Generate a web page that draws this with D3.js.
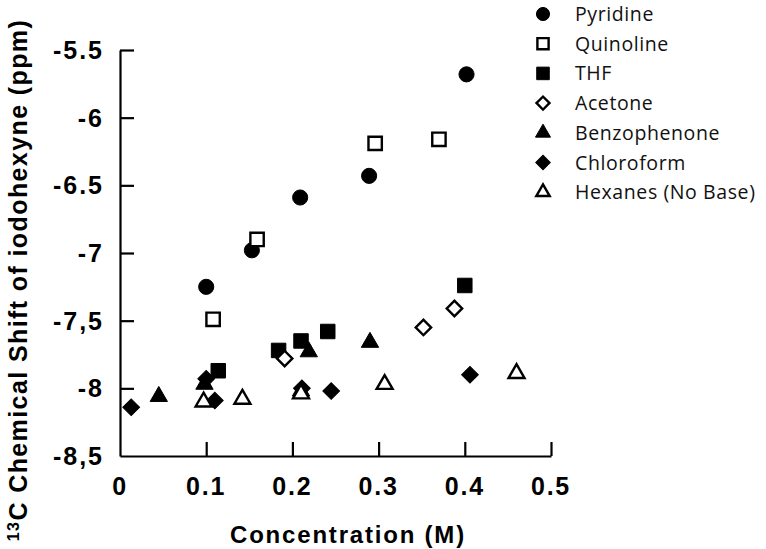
<!DOCTYPE html>
<html>
<head>
<meta charset="utf-8">
<script src="https://cdn.jsdelivr.net/npm/d3@7"></script>
<style>
  html, body { margin: 0; padding: 0; background: #fff; }
  svg { display: block; }
</style>
</head>
<body>
<svg id="chart" width="766" height="549"></svg>
<script>
// data (concentration M, 13C shift ppm)
const pyridine = [[0.100, -7.25], [0.153, -6.98], [0.209, -6.59], [0.289, -6.43], [0.402, -5.68]];
const quinoline = [[0.108, -7.49], [0.159, -6.90], [0.296, -6.19], [0.370, -6.16]];
const thf = [[0.114, -7.87], [0.184, -7.72], [0.210, -7.65], [0.241, -7.58], [0.400, -7.24]];
const acetone = [[0.191, -7.78], [0.352, -7.55], [0.388, -7.41]];
const benzophenone = [[0.045, -8.06], [0.098, -7.97], [0.210, -8.02], [0.219, -7.73], [0.290, -7.66]];
const chloroform = [[0.013, -8.14], [0.100, -7.93], [0.110, -8.09], [0.211, -8.00], [0.245, -8.02], [0.406, -7.90]];
const hexanes = [[0.097, -8.10], [0.142, -8.08], [0.210, -8.04], [0.307, -7.97], [0.460, -7.89]];

const xTicks = [0, 0.1, 0.2, 0.3, 0.4, 0.5];
const xTickLabels = ["0", "0.1", "0.2", "0.3", "0.4", "0.5"];
const yTicks = [-5.5, -6, -6.5, -7, -7.5, -8, -8.5];
const yTickLabels = ["-5.5", "-6", "-6.5", "-7", "-7,5", "-8", "-8,5"];

const series = [
  { name: "Pyridine", data: pyridine, shape: "circle", fill: true },
  { name: "Quinoline", data: quinoline, shape: "square", fill: false },
  { name: "THF", data: thf, shape: "square", fill: true },
  { name: "Acetone", data: acetone, shape: "diamond", fill: false },
  { name: "Benzophenone", data: benzophenone, shape: "triangle", fill: true },
  { name: "Chloroform", data: chloroform, shape: "diamond", fill: true },
  { name: "Hexanes (No Base)", data: hexanes, shape: "triangle", fill: false }
];

const svg = d3.select("#chart");
const margin = { left: 120, right: 215, top: 50, bottom: 93 };
const width = 766, height = 549;

const x = d3.scaleLinear().domain([0, 0.5]).range([margin.left, width - margin.right]);
const y = d3.scaleLinear().domain([-8.5, -5.5]).range([height - margin.bottom, margin.top]);

const tickFont = "'Liberation Sans', Arial, sans-serif";

// axes
const xAxis = svg.append("g")
  .attr("transform", `translate(0,${y(-8.5)})`)
  .call(d3.axisTop(x).tickValues(xTicks).tickSize(14).tickSizeOuter(0).tickFormat(""));
const yAxis = svg.append("g")
  .attr("transform", `translate(${x(0)},0)`)
  .call(d3.axisRight(y).tickValues(yTicks).tickSize(14).tickSizeOuter(0).tickFormat(""));
[xAxis, yAxis].forEach(g => {
  g.select(".domain").attr("stroke", "#000").attr("stroke-width", 2.2);
  g.selectAll(".tick line").attr("stroke", "#000").attr("stroke-width", 2.2);
});
// no tick at the origin
yAxis.selectAll(".tick").filter(d => d === -8.5).remove();
xAxis.selectAll(".tick").filter(d => d === 0).remove();

// tick labels
svg.append("g").selectAll("text").data(xTicks).join("text")
  .attr("x", d => x(d))
  .attr("y", y(-8.5) + 39)
  .attr("text-anchor", "middle")
  .attr("font-family", tickFont).attr("font-weight", "bold")
  .attr("font-size", 25).attr("letter-spacing", 1.8)
  .text((d, i) => xTickLabels[i]);

svg.append("g").selectAll("text").data(yTicks).join("text")
  .attr("x", x(0) - 16)
  .attr("y", d => y(d) + 9)
  .attr("text-anchor", "end")
  .attr("font-family", tickFont).attr("font-weight", "bold")
  .attr("font-size", 25).attr("letter-spacing", 2)
  .text((d, i) => yTickLabels[i]);

// axis titles
svg.append("text")
  .attr("x", 348).attr("y", 543)
  .attr("text-anchor", "middle")
  .attr("font-family", tickFont).attr("font-weight", "bold")
  .attr("font-size", 24).attr("letter-spacing", 1.8)
  .text("Concentration (M)");

const yTitle = svg.append("text")
  .attr("transform", "translate(27,280) rotate(-90)")
  .attr("text-anchor", "middle")
  .attr("font-family", tickFont).attr("font-weight", "bold")
  .attr("font-size", 25).attr("letter-spacing", 1.4);
yTitle.append("tspan").attr("font-size", 16).attr("dy", -8).text("13");
yTitle.append("tspan").attr("dy", 8).text("C Chemical Shift of iodohexyne (ppm)");

// markers
function symbolPath(shape, scale) {
  if (shape === "circle") return d3.symbol(d3.symbolCircle, 180 * scale)();
  if (shape === "square") return d3.symbol(d3.symbolSquare, 210 * scale)();
  if (shape === "diamond") return d3.symbol(d3.symbolSquare, 140 * scale)();
  return d3.symbol(d3.symbolTriangle, 130 * scale)();
}
function drawMarker(g, s, px, py, scale) {
  return g.append("path")
    .attr("d", symbolPath(s.shape, scale))
    .attr("transform", `translate(${px},${py})` + (s.shape === "diamond" ? " rotate(45)" : ""))
    .attr("fill", s.fill ? "#000" : "#fff")
    .attr("stroke", "#000")
    .attr("stroke-width", s.fill ? 1 : 2.4);
}

const marks = svg.append("g");
series.forEach(s => {
  s.data.forEach(d => drawMarker(marks, s, x(d[0]), y(d[1]), s.fill ? 1 : 0.85));
});

// legend
const legend = svg.append("g");
series.forEach((s, i) => {
  const ly = 14 + i * 29.7;
  drawMarker(legend, s, 543, ly, s.fill ? 0.75 : 0.6);
  legend.append("text")
    .attr("x", 575).attr("y", ly + 7)
    .attr("font-family", "'Open Sans', Lato, sans-serif")
    .attr("font-size", 19.5)
    .attr("letter-spacing", 0.6)
    .attr("fill", "#111")
    .text(s.name);
});
</script>
</body>
</html>
